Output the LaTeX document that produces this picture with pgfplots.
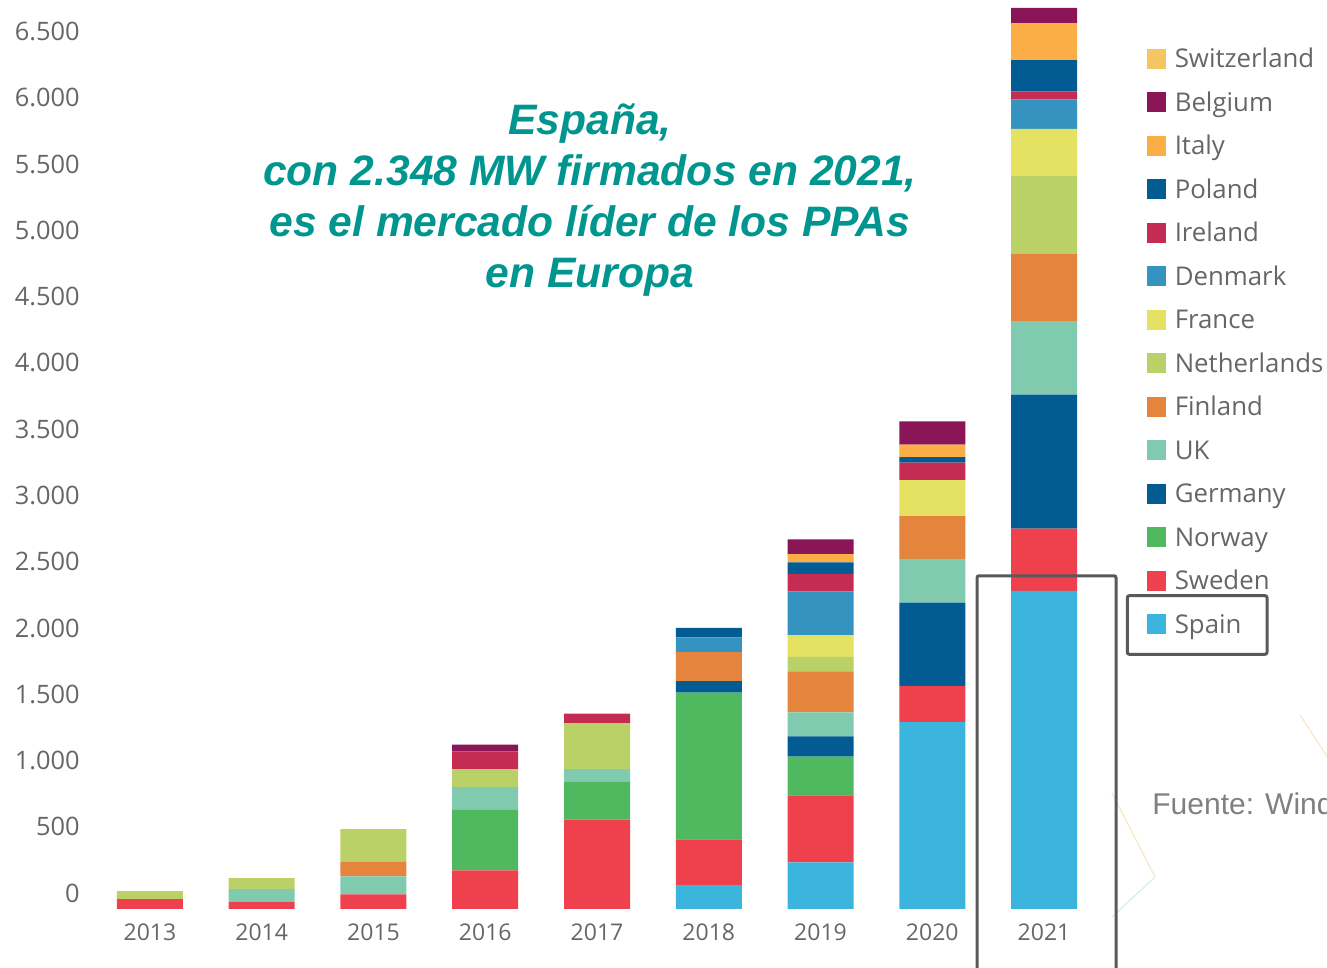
\documentclass[border=0pt]{standalone}
\usepackage{fontspec}
\setmainfont{Open Sans}
\newfontfamily\arialfont{Liberation Sans}
\usepackage{pgfplots}
\usepackage{pgfplotstable}
\pgfplotsset{compat=1.18}

\definecolor{cSpain}{RGB}{59,181,221}
\definecolor{cSweden}{RGB}{239,65,77}
\definecolor{cNorway}{RGB}{80,185,95}
\definecolor{cGermany}{RGB}{2,91,146}
\definecolor{cUK}{RGB}{128,203,176}
\definecolor{cFinland}{RGB}{229,132,60}
\definecolor{cNetherlands}{RGB}{185,209,102}
\definecolor{cFrance}{RGB}{229,226,99}
\definecolor{cDenmark}{RGB}{52,147,191}
\definecolor{cIreland}{RGB}{197,44,84}
\definecolor{cPoland}{RGB}{2,91,146}
\definecolor{cItaly}{RGB}{251,174,69}
\definecolor{cBelgium}{RGB}{139,22,87}
\definecolor{cSwitzerland}{RGB}{245,196,99}
\definecolor{tickgray}{RGB}{102,102,102}
\definecolor{titleteal}{RGB}{0,150,143}
\definecolor{boxgray}{RGB}{89,89,89}
\definecolor{fuentegray}{RGB}{128,128,128}

% MW firmados por pais (0 = 2013 ... 8 = 2021)
\pgfplotstableread{
idx Spain Sweden Norway Germany UK Finland Netherlands France Denmark Ireland Poland Italy Belgium Switzerland
0   0     75     0      0       0   0       60          0      0       0       0      0     0       0
1   0     55     0      0       95  0       83          0      0       0       0      0     0       0
2   0     111    0      0       136 108     247         0      0       0       0      0     0       0
3   0     292    457    0       171 0       134         0      0       136     0      0     50      0
4   0     674    285    0       96  0       347         0      0       72      0      0     0       0
5   181   345    1106   88      0   219     0           0      111     0       72     0     0       0
6   352   506    291    154     181 309     110         162    332     133     86     63    111     0
7   1411  272    0      629     330 322     0           272    0       133     41     95    174     0
8   2400  471    0      1011    555 506     589         355    223     61      236    278   115     0
}\ppadata

\pgfplotsset{sqbar/.style={fill=#1, draw=none,
  legend image code/.code={\fill[##1] (0pt,-3.85pt) rectangle (9.5pt,6.15pt);}}}

\begin{document}
\begin{tikzpicture}[x=1pt,y=1pt]
\begin{axis}[
  at={(0,0)}, anchor=south west,
  scale only axis, width=502.9pt, height=454.5pt,
  ybar stacked, bar width=33pt,
  xmin=-0.5, xmax=8.5, ymin=0, ymax=6860,
  xtick={0,1,2,3,4,5,6,7,8},
  xticklabels={2013,2014,2015,2016,2017,2018,2019,2020,2021},
  ytick={0,500,...,6500},
  axis line style={draw=none}, major tick length=0pt,
  scaled y ticks=false,
  /pgf/number format/1000 sep={.},
  /pgf/number format/assume math mode=true,
  yticklabel style={anchor=east, inner sep=0pt, xshift=-7pt, yshift=8pt,
    font=\fontsize{12.7}{15}\selectfont, text=tickgray},
  xticklabel style={anchor=north, inner sep=0pt, yshift=-7pt,
    font=\fontsize{11.5}{14}\selectfont, text=tickgray},
  legend style={at={(1.0468,0.948)}, anchor=north west, draw=none, fill=none,
    inner sep=0pt, row sep=8.45pt, font=\fontsize{12.9}{16}\selectfont,
    text=tickgray, nodes={inner sep=0pt, text height=10pt, text depth=3.3pt},
    /tikz/every odd column/.append style={column sep=4.2pt}},
  legend cell align=left,
  reverse legend,
]
\addplot[sqbar=cSpain] table[x=idx,y=Spain]{\ppadata};
\addplot[sqbar=cSweden] table[x=idx,y=Sweden]{\ppadata};
\addplot[sqbar=cNorway] table[x=idx,y=Norway]{\ppadata};
\addplot[sqbar=cGermany] table[x=idx,y=Germany]{\ppadata};
\addplot[sqbar=cUK] table[x=idx,y=UK]{\ppadata};
\addplot[sqbar=cFinland] table[x=idx,y=Finland]{\ppadata};
\addplot[sqbar=cNetherlands] table[x=idx,y=Netherlands]{\ppadata};
\addplot[sqbar=cFrance] table[x=idx,y=France]{\ppadata};
\addplot[sqbar=cDenmark] table[x=idx,y=Denmark]{\ppadata};
\addplot[sqbar=cIreland] table[x=idx,y=Ireland]{\ppadata};
\addplot[sqbar=cPoland] table[x=idx,y=Poland]{\ppadata};
\addplot[sqbar=cItaly] table[x=idx,y=Italy]{\ppadata};
\addplot[sqbar=cBelgium] table[x=idx,y=Belgium]{\ppadata};
\addplot[sqbar=cSwitzerland] table[x=idx,y=Switzerland]{\ppadata};
\legend{Spain,Sweden,Norway,Germany,UK,Finland,Netherlands,France,Denmark,Ireland,Poland,Italy,Belgium,Switzerland}
\end{axis}

% titulo
\begin{scope}[every node/.style={anchor=base, inner sep=0pt, text=titleteal,
    font=\arialfont\bfseries\itshape\fontsize{21.3}{25.5}\selectfont}]
\node at (247.95,387) {España,};
\node at (247.95,361.5) {con 2.348 MW firmados en 2021,};
\node at (247.95,336) {es el mercado líder de los PPAs};
\node at (247.95,310.5) {en Europa};
\end{scope}

% adornos tenues
\draw[line width=0.6pt, color={rgb,255:red,250;green,230;blue,200}] (508.95,58) -- (530.45,16);
\draw[line width=0.6pt, color={rgb,255:red,215;green,236;blue,236}] (530.45,16) -- (508.95,-4);
\draw[line width=0.6pt, color={rgb,255:red,250;green,230;blue,200}] (602.95,97) -- (618,74);

% fuente (cortada en el borde, como en el original)
\node[anchor=base west, inner sep=0pt, text=fuentegray,
  font=\arialfont\fontsize{15}{18}\selectfont] at (528.95,47) {Fuente: WindEurope};

% recuadros
\draw[boxgray, line width=1.5pt, rounded corners=1pt] (441.45,-45) -- (441.45,166.6) -- (510.95,166.6) -- (510.95,-45);
\draw[boxgray, line width=1.5pt, rounded corners=1pt] (516.6,127.35) rectangle (586.45,156.65);

\pgfresetboundingbox
\path[use as bounding box] (-47.05,-29.5) rectangle (616.45,454.5);
\end{tikzpicture}
\end{document}
